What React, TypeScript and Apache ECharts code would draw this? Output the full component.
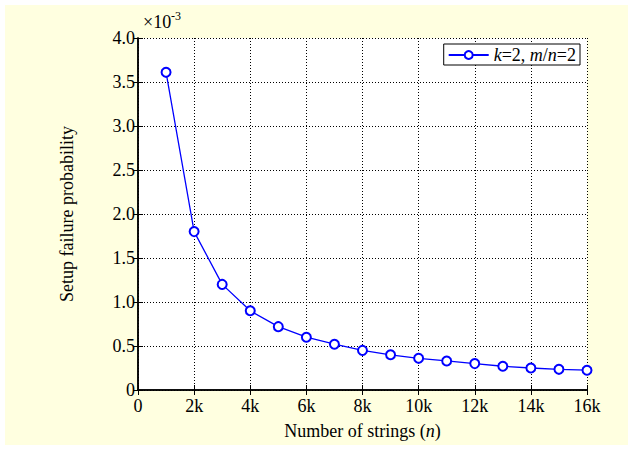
import React, { useEffect, useRef } from "react";
import * as echarts from "echarts";

// Number of strings n (in thousands)
const stringsK = [1, 2, 3, 4, 5, 6, 7, 8, 9, 10, 11, 12, 13, 14, 15, 16];
// Setup failure probability, in units of 1e-3
const failureProbE3 = [3.61, 1.8, 1.2, 0.9, 0.72, 0.6, 0.52, 0.45, 0.4, 0.36, 0.33, 0.3, 0.27, 0.25, 0.235, 0.225];
const xTickLabels = ["0", "2k", "4k", "6k", "8k", "10k", "12k", "14k", "16k"];
const yTickLabels = ["0", "0.5", "1.0", "1.5", "2.0", "2.5", "3.0", "3.5", "4.0"];

const FONT = "Liberation Serif";
const FS = 18;

export default function App() {
  const ref = useRef<HTMLDivElement>(null);
  useEffect(() => {
    if (!ref.current) return;
    const chart = echarts.init(ref.current, null, { renderer: "svg" });
    const data = stringsK.map((k, i) => [k * 1000, failureProbE3[i]]);
    const gridL = 138, gridR = 46, gridT = 38, gridB = 60;
    const axisLine = { show: true, lineStyle: { color: "#000", width: 1.5 } };
    const tick = { show: true, inside: true, length: 5, lineStyle: { color: "#000", width: 1 } };
    chart.setOption({
      animation: false,
      backgroundColor: "#fff",
      textStyle: { fontFamily: FONT },
      graphic: [
        {
          type: "rect",
          z: -10,
          shape: { x: 5, y: 5, width: 623, height: 440 },
          style: { fill: "#FFFFE0" },
          silent: true,
        },
        {
          type: "text",
          x: 143,
          y: 13,
          style: { text: "×10", fontFamily: FONT, fontSize: FS, fill: "#000" },
        },
        {
          type: "text",
          x: 171,
          y: 10,
          style: { text: "-3", fontFamily: FONT, fontSize: 12, fill: "#000" },
        },
      ],
      grid: {
        left: gridL,
        right: gridR,
        top: gridT,
        bottom: gridB,
        show: true,
        backgroundColor: "#fff",
        borderWidth: 0,
      },
      legend: {
        right: 53,
        top: 44,
        orient: "vertical",
        padding: [2, 4, 1, 4],
        borderColor: "#000",
        borderWidth: 1,
        backgroundColor: "#fff",
        itemWidth: 40,
        itemHeight: 10,
        itemGap: 0,
        formatter: () => "{i|k}{r|=2, }{i|m}{r|/}{i|n}{r|=2}",
        textStyle: {
          fontFamily: FONT,
          fontSize: FS,
          color: "#000",
          rich: {
            i: { fontFamily: FONT, fontSize: FS, fontStyle: "italic", color: "#000" },
            r: { fontFamily: FONT, fontSize: FS, color: "#000" },
          },
        },
        data: ["k=2, m/n=2"],
      },
      xAxis: [
        {
          type: "value",
          min: 0,
          max: 16000,
          interval: 2000,
          position: "bottom",
          axisLine,
          axisTick: tick,
          axisLabel: {
            color: "#000",
            fontSize: FS,
            fontFamily: FONT,
            margin: 7,
            formatter: (v: number) => xTickLabels[Math.round(v / 2000)] ?? "",
          },
          splitLine: { show: true, lineStyle: { color: "#000", type: [1, 2], width: 1 } },
          name: "{r|Number of strings (}{i|n}{r|)}",
          nameLocation: "middle",
          nameGap: 32,
          nameTextStyle: {
            fontFamily: FONT,
            fontSize: FS,
            rich: {
              r: { fontFamily: FONT, fontSize: FS, color: "#000" },
              i: { fontFamily: FONT, fontSize: FS, color: "#000", fontStyle: "italic" },
            },
          },
        },
        {
          type: "value",
          min: 0,
          max: 16000,
          interval: 2000,
          position: "top",
          axisLine,
          axisTick: tick,
          axisLabel: { show: false },
          splitLine: { show: false },
        },
      ],
      yAxis: [
        {
          type: "value",
          min: 0,
          max: 4,
          interval: 0.5,
          position: "left",
          axisLine,
          axisTick: tick,
          axisLabel: {
            color: "#000",
            fontSize: FS,
            fontFamily: FONT,
            margin: 3,
            formatter: (v: number) => yTickLabels[Math.round(v / 0.5)] ?? "",
          },
          splitLine: { show: true, lineStyle: { color: "#000", type: [1, 2], width: 1 } },
          name: "Setup failure probability",
          nameLocation: "middle",
          nameGap: 62,
          nameRotate: 90,
          nameTextStyle: { fontFamily: FONT, fontSize: FS, color: "#000" },
        },
        {
          type: "value",
          min: 0,
          max: 4,
          interval: 0.5,
          position: "right",
          axisLine,
          axisTick: tick,
          axisLabel: { show: false },
          splitLine: { show: false },
        },
      ],
      series: [
        {
          name: "k=2, m/n=2",
          type: "line",
          xAxisIndex: 0,
          yAxisIndex: 0,
          data,
          symbol: "emptyCircle",
          symbolSize: 9,
          color: "#0000FF",
          lineStyle: { color: "#0000FF", width: 1.3 },
          itemStyle: { color: "#0000FF", borderColor: "#0000FF", borderWidth: 1.3 },
        },
      ],
    });
    return () => chart.dispose();
  }, []);
  return (
    <div
      ref={ref}
      style={{ position: "fixed", left: 0, top: 0, width: 633, height: 450 }}
    />
  );
}
